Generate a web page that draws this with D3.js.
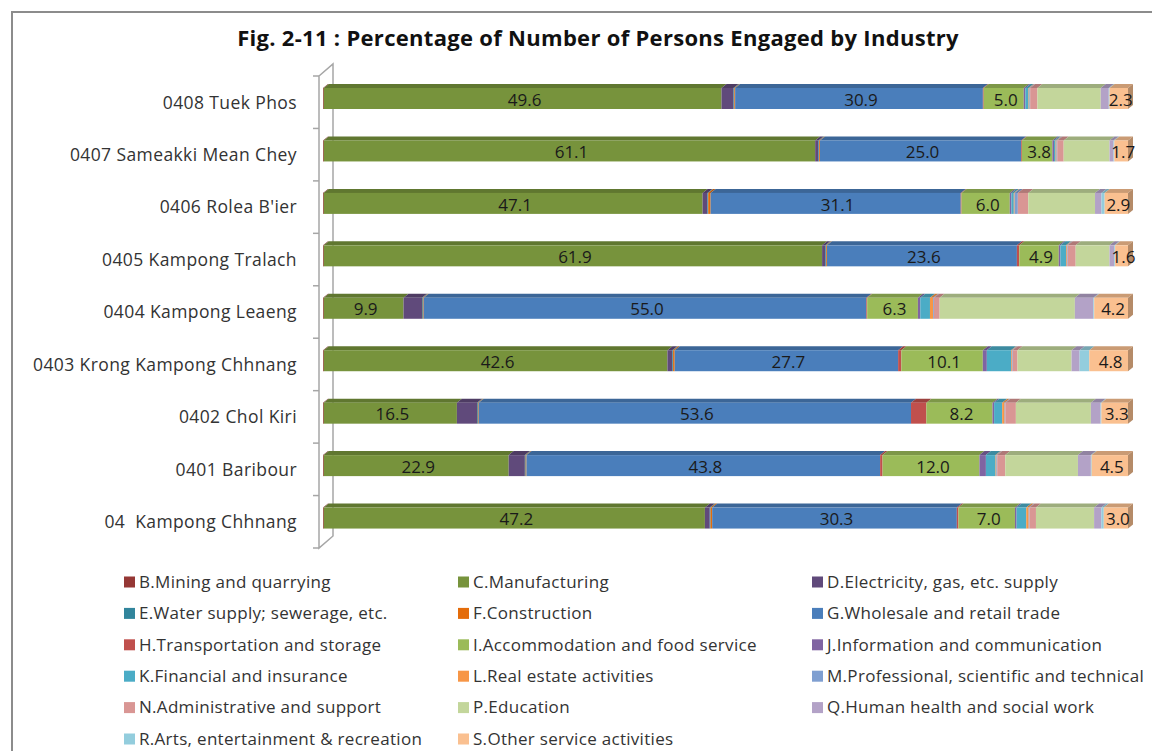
<!DOCTYPE html>
<html>
<head>
<meta charset="utf-8">
<script src="https://cdn.jsdelivr.net/npm/d3@7"></script>
<style>
  body { margin: 0; background: #fff; }
  svg { display: block; }
</style>
</head>
<body>
<div id="chart"></div>
<script>
// districts, top to bottom as drawn
const categories = ["0408 Tuek Phos", "0407 Sameakki Mean Chey", "0406 Rolea B'ier", "0405 Kampong Tralach",
  "0404 Kampong Leaeng", "0403 Krong Kampong Chhnang", "0402 Chol Kiri", "0401 Baribour", "04  Kampong Chhnang"];

const industries = ["B.Mining and quarrying", "C.Manufacturing", "D.Electricity, gas, etc. supply",
  "E.Water supply; sewerage, etc.", "F.Construction", "G.Wholesale and retail trade",
  "H.Transportation and storage", "I.Accommodation and food service", "J.Information and communication",
  "K.Financial and insurance", "L.Real estate activities", "M.Professional, scientific and technical",
  "N.Administrative and support", "P.Education", "Q.Human health and social work",
  "R.Arts, entertainment & recreation", "S.Other service activities"];

const colors = ["#953735", "#77933c", "#604a7b", "#31859c", "#e46c0a", "#4a7ebb", "#c0504d", "#9bbb59",
  "#8064a2", "#4bacc6", "#f79646", "#7f9fd1", "#d99694", "#c3d69b", "#b3a2c7", "#93cddd", "#fac090"];

// percentages per industry, same order as categories
const mining        = [0.1, 0.1, 0.1, 0.1, 0.1, 0.1, 0.1, 0.1, 0.1];
const manufacturing = [49.6, 61.1, 47.1, 61.9, 9.9, 42.6, 16.5, 22.9, 47.2];
const electricity   = [1.5, 0.4, 0.6, 0.4, 2.3, 0.6, 2.5, 2.0, 0.6];
const water         = [0.1, 0.1, 0.1, 0.1, 0.1, 0.1, 0.1, 0.1, 0.1];
const construction  = [0.1, 0.1, 0.3, 0.1, 0.1, 0.2, 0.1, 0.1, 0.2];
const wholesale     = [30.9, 25.0, 31.1, 23.6, 55.0, 27.7, 53.6, 43.8, 30.3];
const transport     = [0.1, 0.1, 0.1, 0.3, 0.1, 0.4, 1.9, 0.3, 0.2];
const accommodation = [5.0, 3.8, 6.0, 4.9, 6.3, 10.1, 8.2, 12.0, 7.0];
const information   = [0.2, 0.2, 0.2, 0.2, 0.3, 0.5, 0.2, 0.8, 0.2];
const financial     = [0.4, 0.2, 0.3, 0.7, 1.2, 3.0, 1.0, 1.2, 1.2];
const realEstate    = [0.1, 0.1, 0.1, 0.1, 0.4, 0.1, 0.3, 0.1, 0.3];
const professional  = [0.1, 0.1, 0.4, 0.1, 0.1, 0.1, 0.1, 0.1, 0.1];
const admin         = [0.9, 0.8, 1.3, 1.0, 0.7, 0.6, 1.3, 1.0, 0.8];
const education     = [7.9, 5.7, 8.3, 4.2, 16.8, 6.7, 9.3, 9.0, 7.2];
const health        = [1.0, 0.5, 0.8, 0.6, 2.3, 1.0, 1.2, 1.6, 0.9];
const arts          = [0.1, 0.1, 0.4, 0.1, 0.1, 1.2, 0.1, 0.1, 0.3];
const otherService  = [2.3, 1.7, 2.9, 1.6, 4.2, 4.8, 3.3, 4.5, 3.0];

const seriesValues = [mining, manufacturing, electricity, water, construction, wholesale, transport,
  accommodation, information, financial, realEstate, professional, admin, education, health, arts, otherService];

// only these get data labels in the original
const labelled = [1, 5, 7, 16];

const W = 1152, H = 751;
const DX = 5, DY = -4;   // 3d depth of the bars

// build rows for d3.stack
const rows = categories.map((c, i) => {
  let r = { cat: c };
  seriesValues.forEach((s, k) => { r[k] = s[i]; });
  return r;
});

const stack = d3.stack()
  .keys(d3.range(industries.length))
  .offset(d3.stackOffsetExpand);
const layers = stack(rows);

const x = d3.scaleLinear().domain([0, 1]).range([323, 1128]);
const y = d3.scaleBand().domain(categories).range([76, 548]);
const barOff = 12, barH = 21;

const svg = d3.select("#chart").append("svg")
  .attr("width", W)
  .attr("height", H);

// outer frame (only top and left show)
svg.append("path")
  .attr("d", "M12," + H + "V12H" + W)
  .attr("fill", "none")
  .attr("stroke", "#8c8c8c")
  .attr("stroke-width", 2);

svg.append("text")
  .attr("x", 598)
  .attr("y", 46)
  .attr("text-anchor", "middle")
  .style("font-family", "'Open Sans', sans-serif")
  .style("font-weight", "bold")
  .style("font-size", "22px")
  .style("letter-spacing", "0.3px")
  .attr("fill", "#111")
  .text("Fig. 2-11 : Percentage of Number of Persons Engaged by Industry");

// the 3d wall on the left
const yTop = y.range()[0], yBot = y.range()[1];
const wallX = 319, wallDX = 14, wallDY = -12;
const wall = svg.append("g").attr("stroke", "#a6a6a6").attr("fill", "none").attr("stroke-width", 1.5);
wall.append("path")
  .attr("d", `M${wallX},${yTop}V${yBot}L${wallX + wallDX},${yBot + wallDY}V${yTop + wallDY}L${wallX},${yTop}`);
wall.selectAll("line.tick")
  .data(d3.range(categories.length + 1))
  .enter().append("line")
  .attr("class", "tick")
  .attr("x1", wallX - 6)
  .attr("x2", wallX)
  .attr("y1", d => yTop + d * y.step())
  .attr("y2", d => yTop + d * y.step());

// category labels
svg.append("g").selectAll("text")
  .data(categories)
  .enter().append("text")
  .attr("x", 297)
  .attr("y", d => y(d) + y.bandwidth() / 2)
  .attr("dy", "0.36em")
  .attr("text-anchor", "end")
  .style("white-space", "pre")
  .style("font-family", "'Open Sans', sans-serif")
  .style("font-size", "17.5px")
  .style("letter-spacing", "0.4px")
  .attr("fill", "#333")
  .text(d => d);

// bars: top face + front face for every segment
const bars = svg.append("g");
layers.forEach((layer, k) => {
  const col = colors[k];
  const g = bars.append("g");
  g.selectAll("path.top")
    .data(layer)
    .enter().append("path")
    .attr("class", "top")
    .attr("fill", d3.color(col).darker(0.6))
    .attr("d", d => {
      const x0 = x(d[0]), x1 = x(d[1]), yy = y(d.data.cat) + barOff;
      return `M${x0},${yy}L${x0 + DX},${yy + DY}L${x1 + DX},${yy + DY}L${x1},${yy}Z`;
    });
  g.selectAll("rect")
    .data(layer)
    .enter().append("rect")
    .attr("x", d => x(d[0]))
    .attr("y", d => y(d.data.cat) + barOff)
    .attr("width", d => Math.max(0, x(d[1]) - x(d[0])))
    .attr("height", barH)
    .attr("fill", col);
});

// right side face of the last segment
const last = layers[layers.length - 1];
bars.selectAll("path.side")
  .data(last)
  .enter().append("path")
  .attr("class", "side")
  .attr("fill", d3.color(colors[colors.length - 1]).darker(0.9))
  .attr("d", d => {
    const x1 = x(d[1]), yy = y(d.data.cat) + barOff;
    return `M${x1},${yy}L${x1 + DX},${yy + DY}L${x1 + DX},${yy + barH + DY}L${x1},${yy + barH}Z`;
  });

// data labels
labelled.forEach(k => {
  bars.append("g").selectAll("text")
    .data(layers[k])
    .enter().append("text")
    .attr("x", d => (x(d[0]) + x(d[1])) / 2 + 2)
    .attr("y", d => y(d.data.cat) + barOff + barH / 2 + 1)
    .attr("dy", "0.36em")
    .attr("text-anchor", "middle")
    .style("font-family", "'Open Sans', sans-serif")
    .style("font-size", "17px")
    .attr("fill", "#1a1a1a")
    .text((d, i) => seriesValues[k][i].toFixed(1));
});

// legend, three columns
const legX = [124, 458, 812];
const legY0 = 582, legStep = 31.4;
const leg = svg.append("g").selectAll("g")
  .data(industries)
  .enter().append("g")
  .attr("transform", (d, i) => `translate(${legX[i % 3]},${legY0 + Math.floor(i / 3) * legStep})`);
leg.append("rect")
  .attr("x", 0)
  .attr("y", -5.5)
  .attr("width", 11)
  .attr("height", 11)
  .attr("fill", (d, i) => colors[i]);
leg.append("text")
  .attr("x", 15)
  .attr("dy", "0.34em")
  .style("font-family", "'Open Sans', sans-serif")
  .style("font-size", "17px")
  .style("letter-spacing", "0.3px")
  .attr("fill", "#333")
  .text(d => d);
</script>
</body>
</html>
